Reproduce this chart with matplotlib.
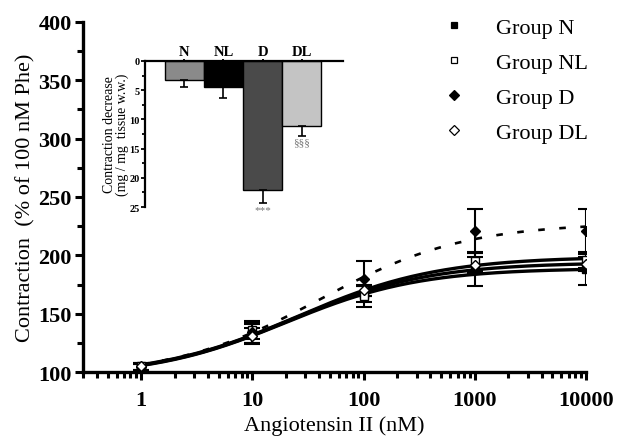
import numpy as np
import matplotlib
matplotlib.use('Agg')
import matplotlib.pyplot as plt
from matplotlib.lines import Line2D
from matplotlib.ticker import MultipleLocator, LogLocator, NullFormatter

plt.rcParams['font.family'] = ['Liberation Serif', 'DejaVu Serif']

# Angiotensin II concentrations (nM)
conc = [1, 10, 100, 1000, 10000]

groups = ['Group N', 'Group NL', 'Group D', 'Group DL']
means = {
    'Group N':  [104, 133, 167, 188, 188],
    'Group NL': [105, 136, 165, 195, 196],
    'Group D':  [104, 134, 180, 221, 221],
    'Group DL': [105, 131, 170, 192, 193],
}
sems = {
    'Group N':  [3, 8, 7, 14, 13],
    'Group NL': [3, 8, 9, 8, 7],
    'Group D':  [3, 9, 15, 19, 19],
    'Group DL': [3, 7, 5, 7, 6],
}
# fitted sigmoid parameters: bottom, top, logEC50, hill
fits = {
    'Group N':  [96, 189, 1.30, 0.72],
    'Group NL': [96, 199, 1.40, 0.68],
    'Group D':  [96, 228, 1.60, 0.66],
    'Group DL': [96, 194, 1.35, 0.70],
}
markers = {'Group N': 's', 'Group NL': 's', 'Group D': 'D', 'Group DL': 'D'}
filled = {'Group N': True, 'Group NL': False, 'Group D': True, 'Group DL': False}
styles = {'Group N': '-', 'Group NL': '-', 'Group D': (0, (2.5, 5.5)), 'Group DL': '-'}

# inset bar data
bar_labels = ['N', 'NL', 'D', 'DL']
bar_values = [3.3, 4.5, 22.0, 11.2]
bar_errors = [1.2, 1.9, 2.3, 1.6]
bar_colors = ['#8a8a8a', '#000000', '#4a4a4a', '#c4c4c4']
bar_marks = ['', '', '***', '§§§']

fig = plt.figure(figsize=(6.2, 4.39), dpi=100)
ax = fig.add_axes([0.134, 0.150, 0.811, 0.798])

xs = np.logspace(0, 4, 200)
for g in groups:
    b, t, L, h = fits[g]
    ys = b + (t - b) / (1 + 10 ** ((L - np.log10(xs)) * h))
    lw = 1.9 if g == 'Group D' else 2.4
    ax.plot(xs, ys, color='black', ls=styles[g], lw=lw, zorder=2)
    ax.errorbar(conc, means[g], yerr=sems[g], fmt='none', ecolor='black',
                elinewidth=1.5, capsize=5.5, capthick=1.5, zorder=3)
    ax.plot(conc, means[g], ls='none', marker=markers[g],
            ms=6 if markers[g] == 's' else 5.5,
            mfc='black' if filled[g] else 'white', mec='black', mew=1, zorder=4)

ax.set_xscale('log')
ax.set_xlim(0.3, 10000)
ax.set_ylim(100, 400)
ax.set_xticks(conc)
ax.set_xticklabels(['1', '10', '100', '1000', '10000'])
ax.xaxis.set_minor_locator(LogLocator(base=10, subs=np.arange(2, 10)))
ax.xaxis.set_minor_formatter(NullFormatter())
ax.yaxis.set_major_locator(MultipleLocator(50))
ax.yaxis.set_minor_locator(MultipleLocator(25))
for s in ['top', 'right']:
    ax.spines[s].set_visible(False)
for s in ['left', 'bottom']:
    ax.spines[s].set_linewidth(2.4)
ax.tick_params(which='major', length=6, width=2.2, labelsize=16, pad=2)
ax.tick_params(axis='x', which='major', pad=7)
ax.tick_params(which='minor', length=4, width=2.2)
for lab in ax.get_xticklabels() + ax.get_yticklabels():
    lab.set_fontweight('bold')
ax.set_xlabel('Angiotensin II (nM)', fontsize=16, labelpad=4)
ax.set_ylabel('Contraction  (% of 100 nM Phe)', fontsize=16, labelpad=2)

handles = [Line2D([0], [0], ls='none', marker=markers[g], ms=5,
                  mfc='black' if filled[g] else 'white', mec='black', mew=0.9)
           for g in groups]
ax.legend(handles, groups, loc='upper left', bbox_to_anchor=(0.675, 1.07), frameon=False,
          fontsize=16, handletextpad=1.4, labelspacing=0.65, handlelength=1.0)

# inset
ins = fig.add_axes([0.234, 0.526, 0.319, 0.333])
pos = np.arange(1, 5)
ins.bar(pos, bar_values, width=1.0, color=bar_colors, edgecolor='black', linewidth=1.0, zorder=2)
ins.errorbar(pos, bar_values, yerr=[np.zeros(4), bar_errors], fmt='none', ecolor='black',
             elinewidth=1.2, capsize=3, capthick=1.2, zorder=3)
for p, v, e, m in zip(pos, bar_values, bar_errors, bar_marks):
    if m:
        ins.text(p, v + e + 0.3, m, ha='center', va='top', fontsize=8, color='#777777')
ins.set_xlim(0, 5.05)
ins.set_ylim(25, 0)
ins.xaxis.tick_top()
ins.set_xticks(pos)
ins.set_xticklabels(bar_labels, fontsize=10.5, fontweight='bold')
ins.yaxis.set_major_locator(MultipleLocator(5))
ins.yaxis.set_minor_locator(MultipleLocator(2.5))
ins.tick_params(axis='y', which='major', length=3, width=1.3, labelsize=7.5, pad=1)
ins.tick_params(axis='y', which='minor', length=2, width=1.3)
ins.tick_params(axis='x', which='major', length=2.5, width=1.3, direction='inout', pad=1)
for lab in ins.get_yticklabels():
    lab.set_fontweight('bold')
for s in ['bottom', 'right']:
    ins.spines[s].set_visible(False)
for s in ['top', 'left']:
    ins.spines[s].set_linewidth(1.6)
ins.set_ylabel('Contraction decrease\n(mg / mg  tissue w.w.)', fontsize=10, labelpad=0,
               linespacing=1.0)
ins.patch.set_alpha(0)

fig.savefig('out.png', dpi=100)
